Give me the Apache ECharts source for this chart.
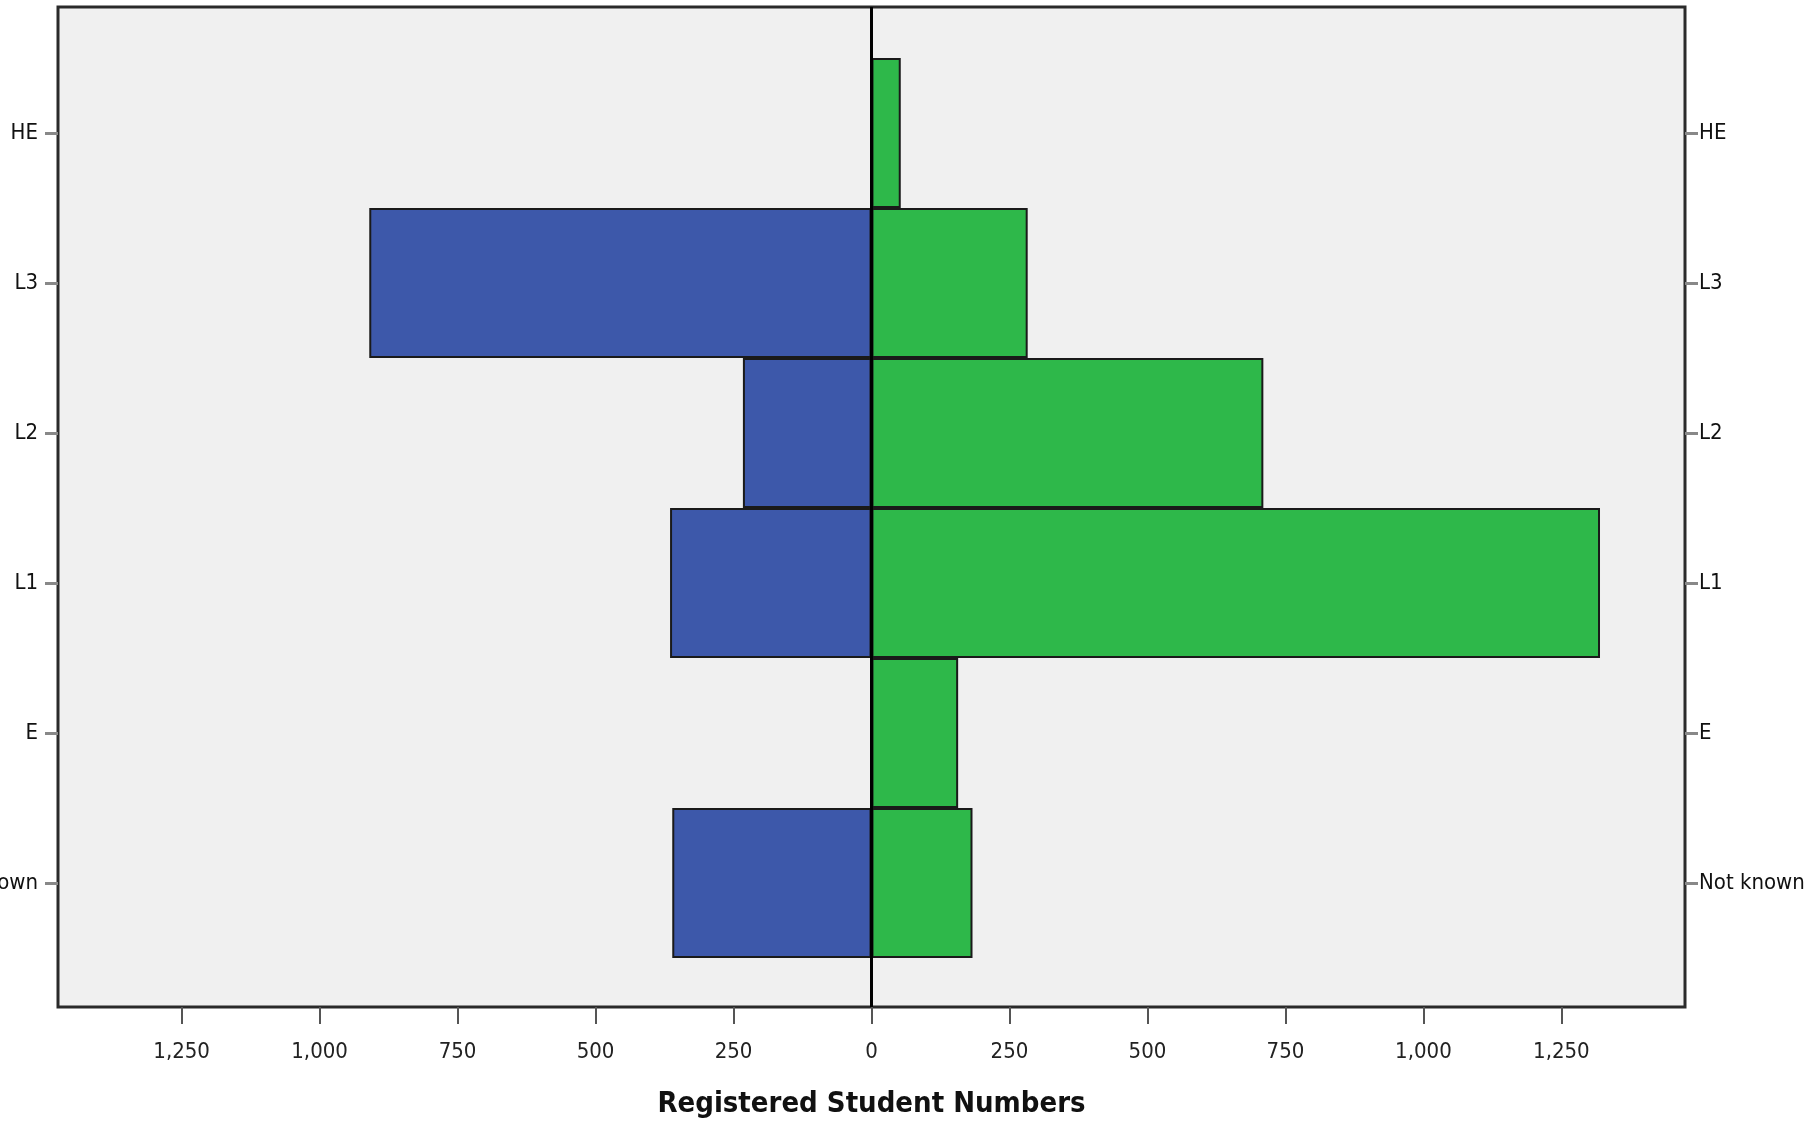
<!DOCTYPE html>
<html>
<head>
<meta charset="utf-8">
<script src="https://cdn.jsdelivr.net/npm/echarts@6/dist/echarts.min.js"></script>
<style>
html,body{margin:0;padding:0;background:#fff;}
#chart{width:1810px;height:1123px;}
</style>
</head>
<body>
<div id="chart"></div>
<script>
// ---- data ----
const categories = ['HE', 'L3', 'L2', 'L1', 'E', 'Not known'];
const femaleCounts = [0, 910, 233, 365, 0, 361];   // left (blue)
const maleCounts = [53, 283, 710, 1320, 157, 183]; // right (green)
const xTickValues = [-1250, -1000, -750, -500, -250, 0, 250, 500, 750, 1000, 1250];
const xTitle = 'Registered Student Numbers';
const zeroValue = 0;

const axisMax = 1474;
const FONT = "'Liberation Sans Narrow', 'Arial Narrow', 'DejaVu Sans Condensed', sans-serif";

const chart = echarts.init(document.getElementById('chart'), null, {renderer: 'canvas'});

const gridLeft = 58, gridRight = 125;

chart.setOption({
  animation: false,
  backgroundColor: '#ffffff',
  grid: [
    { left: gridLeft, right: gridRight, top: 7, bottom: 116, show: true,
      outerBoundsMode: 'none', containLabel: false,
      backgroundColor: '#f0f0f0', borderColor: '#2a2a2a', borderWidth: 3, z: 0 },
    { left: gridLeft, right: gridRight, top: 58, bottom: 165, show: false,
      outerBoundsMode: 'none', containLabel: false }
  ],
  xAxis: [
    {
      gridIndex: 0, type: 'value', min: -axisMax, max: axisMax, position: 'bottom',
      axisLine: { show: false },
      splitLine: { show: false },
      axisTick: { show: true, customValues: xTickValues, length: 17, inside: false,
        lineStyle: { color: '#555', width: 2 } },
      axisLabel: { show: true, customValues: xTickValues, margin: 34,
        fontFamily: FONT, fontSize: 22, color: '#222',
        formatter: v => Math.abs(v).toLocaleString('en-US') },
      name: xTitle, nameLocation: 'middle', nameGap: 83,
      nameTextStyle: { fontFamily: FONT, fontSize: 29, fontWeight: 'bold', color: '#111' }
    },
    {
      gridIndex: 1, type: 'value', min: -axisMax, max: axisMax, show: false
    }
  ],
  yAxis: [
    { gridIndex: 0, type: 'value', min: 0, max: 1, show: false },
    {
      gridIndex: 1, type: 'category', data: categories, inverse: true, position: 'left',
      axisLine: { show: false, onZero: false },
      axisTick: { show: true, alignWithLabel: true, length: 13, lineStyle: { color: '#888', width: 3 } },
      axisLabel: { fontFamily: FONT, fontSize: 22, color: '#111', margin: 20 }
    },
    {
      gridIndex: 1, type: 'category', data: categories, inverse: true, position: 'right',
      axisLine: { show: false, onZero: false },
      axisTick: { show: true, alignWithLabel: true, length: 13, lineStyle: { color: '#888', width: 3 } },
      axisLabel: { fontFamily: FONT, fontSize: 22, color: '#111', margin: 14 }
    }
  ],
  series: [
    {
      name: 'Female', type: 'bar', xAxisIndex: 1, yAxisIndex: 1,
      data: femaleCounts.map(v => -v),
      barWidth: '100%', barGap: '-100%', barCategoryGap: 0,
      itemStyle: { color: '#3d58aa', borderColor: '#1a1a1a', borderWidth: 2 },
      z: 2
    },
    {
      name: 'Male', type: 'bar', xAxisIndex: 1, yAxisIndex: 1,
      data: maleCounts,
      barWidth: '100%', barGap: '-100%', barCategoryGap: 0,
      itemStyle: { color: '#2eb84a', borderColor: '#1a1a1a', borderWidth: 2 },
      z: 2
    },
    {
      name: 'zero', type: 'line', xAxisIndex: 0, yAxisIndex: 0, data: [],
      z: 10, silent: true,
      markLine: {
        silent: true, symbol: ['none', 'none'], label: { show: false },
        lineStyle: { color: '#000', width: 3, type: 'solid' },
        data: [{ xAxis: zeroValue }],
        animation: false
      }
    }
  ]
});
</script>
</body>
</html>
